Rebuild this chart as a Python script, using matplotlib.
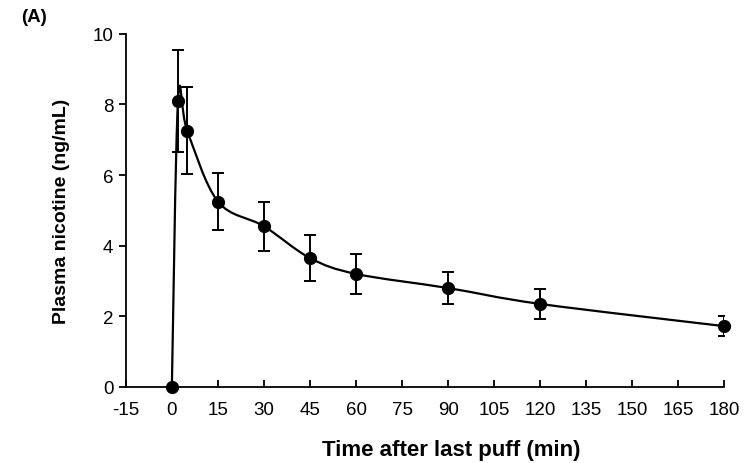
import matplotlib
matplotlib.use("Agg")
import matplotlib.pyplot as plt
from matplotlib.path import Path
from matplotlib.patches import PathPatch

plt.rcParams['font.family'] = ['Liberation Sans', 'DejaVu Sans']
plt.rcParams['axes.unicode_minus'] = False

# time after last puff (min) and plasma nicotine (ng/mL)
times = [0, 2, 5, 15, 30, 45, 60, 90, 120, 180]
nicotine = [0.0, 8.1, 7.25, 5.25, 4.55, 3.65, 3.2, 2.8, 2.35, 1.72]
errors = [0.0, 1.45, 1.23, 0.8, 0.7, 0.65, 0.57, 0.45, 0.43, 0.28]
xticks = list(range(-15, 181, 15))
yticks = [0, 2, 4, 6, 8, 10]

fig = plt.figure(figsize=(7.49, 4.64), dpi=100)
ax = fig.add_axes([0.168, 0.164, 0.799, 0.761])

# smoothed line like a spreadsheet "smooth line" (bezier through the points)
verts = [(times[0], nicotine[0])]
codes = [Path.MOVETO]
n = len(times)
for i in range(n - 1):
    p0 = (times[max(i - 1, 0)], nicotine[max(i - 1, 0)])
    p1 = (times[i], nicotine[i])
    p2 = (times[i + 1], nicotine[i + 1])
    p3 = (times[min(i + 2, n - 1)], nicotine[min(i + 2, n - 1)])
    c1 = (p1[0] + (p2[0] - p0[0]) / 6, p1[1] + (p2[1] - p0[1]) / 6)
    c2 = (p2[0] - (p3[0] - p1[0]) / 6, p2[1] - (p3[1] - p1[1]) / 6)
    verts += [c1, c2, p2]
    codes += [Path.CURVE4] * 3
ax.add_patch(PathPatch(Path(verts, codes), facecolor='none', edgecolor='black', lw=1.6, zorder=2))

ax.errorbar(times[1:], nicotine[1:], yerr=errors[1:], fmt='none', ecolor='black',
            elinewidth=1.4, capsize=4, capthick=1.4, zorder=3)
ax.plot(times, nicotine, 'o', color='black', markersize=8.5, zorder=4, clip_on=False)

ax.set_xlim(-15, 180)
ax.set_ylim(0, 10)
ax.set_xticks(xticks)
ax.set_yticks(yticks)
ax.spines['top'].set_visible(False)
ax.spines['right'].set_visible(False)
for s in ['left', 'bottom']:
    ax.spines[s].set_linewidth(1.3)
ax.tick_params(axis='x', direction='in', length=5, width=1.3, labelsize=13.5, pad=10)
ax.tick_params(axis='y', direction='out', length=5, width=1.3, labelsize=13.5, pad=4)

ax.set_xlabel("Time after last puff (min)", fontsize=16, fontweight='bold', va='center')
ax.xaxis.set_label_coords(0.5435, -0.178)
ax.set_ylabel("Plasma nicotine (ng/mL)", fontsize=14, fontweight='bold', va='center')
ax.yaxis.set_label_coords(-0.107, 0.5)
fig.text(0.028, 0.952, "(A)", fontsize=13.5, fontweight='bold')

fig.savefig("out.png", dpi=100)
